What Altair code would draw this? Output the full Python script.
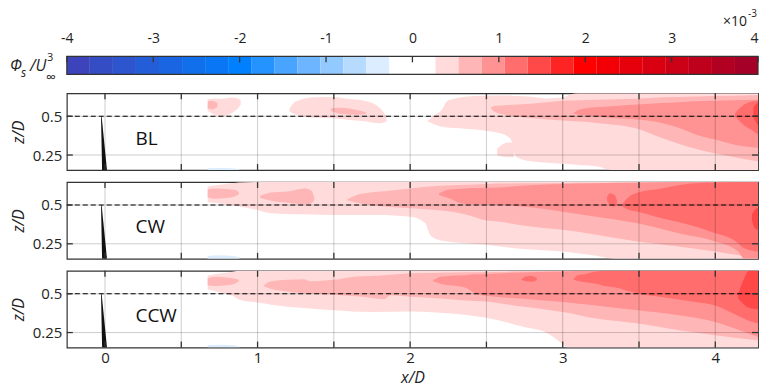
import altair as alt
import pandas as pd
import numpy as np

# ---------------- colour bar ----------------
CB_TICKS = [-4, -3, -2, -1, 0, 1, 2, 3, 4]
CB_EDGES = [round(v, 4) for v in np.linspace(-4, 4, 31)]
CB_COLORS = ["#3d44bb", "#344dc5", "#2c55ce", "#235ed8", "#1a66e2", "#116fec", "#0977f5",
             "#0080ff", "#2492ff", "#49a4ff", "#6db6ff", "#92c9ff", "#b6dbff", "#dbedff",
             "#ffffff", "#ffffff", "#ffdbdb", "#ffb6b6", "#ff9292", "#ff6d6d", "#ff4949",
             "#ff2424", "#ff0000", "#f20006", "#e5000b", "#d80011", "#cc0017", "#bf001d",
             "#b20022", "#a50028"]

LEVEL_COLORS = ["#ffdbdb", "#ffb6b6", "#ff9292", "#ff6d6d", "#ff4949"]
BLUE_COLOR = "#dbedff"

X_TICKS = [0, 0.5, 1, 1.5, 2, 2.5, 3, 3.5, 4]
X_LABELS = [0, 1, 2, 3, 4]
Z_TICKS = [0.25, 0.5]
X_DOMAIN = [-0.25, 4.28]
Z_DOMAIN = [0.153, 0.648]
HUB_Z = [0.5]

TOWER_Z = [0.5, 0.153]
TOWER_XL = [-0.026, -0.019]
TOWER_XR = [-0.022, 0.013]

PANEL_NAMES = ["BL", "CW", "CCW"]
NAME_X = [0.2, 0.2, 0.2]
NAME_Z = [0.353, 0.356, 0.357]

# ---------------- contour bands (x, z_top, z_bottom) ----------------
# BL
BL_BLUE = [(0.673, 0.164, 0.153), (0.75, 0.166, 0.153), (0.85, 0.163, 0.153), (0.88, 0.157, 0.153)]
BL_L1_A = [(0.673, 0.61, 0.535), (0.72, 0.615, 0.51), (0.77, 0.612, 0.50), (0.83, 0.62, 0.52),
           (0.87, 0.615, 0.55), (0.89, 0.60, 0.575)]
BL_L1_B = [(1.21, 0.55, 0.53), (1.25, 0.595, 0.51), (1.37, 0.622, 0.49), (1.48, 0.624, 0.488),
           (1.59, 0.613, 0.478), (1.70, 0.60, 0.468), (1.80, 0.555, 0.455), (1.845, 0.50, 0.465)]
BL_L1_MAIN = [(2.114, 0.469, 0.467), (2.15, 0.50, 0.452), (2.21, 0.545, 0.432), (2.24, 0.595, 0.428),
              (2.29, 0.612, 0.424), (2.36, 0.625, 0.42), (2.49, 0.632, 0.408), (2.576, 0.633, 0.393),
              (2.64, 0.633, 0.37), (2.665, 0.632, 0.34), (2.675, 0.631, 0.29), (2.70, 0.63, 0.236),
              (2.79, 0.626, 0.21), (2.9, 0.615, 0.20), (3.0, 0.62, 0.194), (3.05, 0.64, 0.19),
              (3.1, 0.648, 0.186), (3.22, 0.648, 0.178), (3.33, 0.648, 0.153), (4.28, 0.648, 0.153)]
BL_L1_LOBE = [(2.57, 0.29, 0.25), (2.60, 0.315, 0.24), (2.64, 0.33, 0.236), (2.68, 0.33, 0.235)]
BL_L2_A = [(0.673, 0.595, 0.55), (0.70, 0.60, 0.545), (0.737, 0.585, 0.56)]
BL_L2_B = [(1.48, 0.55, 0.535), (1.55, 0.555, 0.515), (1.65, 0.54, 0.51), (1.71, 0.525, 0.515)]
BL_L2_MAIN = [(2.53, 0.556, 0.55), (2.55, 0.566, 0.53), (2.576, 0.568, 0.52), (2.79, 0.58, 0.489),
              (3.0, 0.60, 0.472), (3.22, 0.607, 0.457), (3.49, 0.613, 0.42), (3.65, 0.622, 0.36),
              (3.87, 0.628, 0.29), (4.0, 0.631, 0.26), (4.19, 0.634, 0.225), (4.28, 0.635, 0.21)]
BL_L3 = [(3.07, 0.52, 0.518), (3.11, 0.543, 0.51), (3.22, 0.558, 0.50), (3.33, 0.564, 0.489),
         (3.49, 0.575, 0.479), (3.65, 0.585, 0.457), (3.76, 0.59, 0.425), (3.87, 0.596, 0.383),
         (4.0, 0.60, 0.35), (4.12, 0.603, 0.318), (4.28, 0.607, 0.297)]
BL_L4 = [(4.13, 0.52, 0.50), (4.19, 0.575, 0.44), (4.24, 0.595, 0.41), (4.28, 0.60, 0.383)]
BL_L5 = [(4.25, 0.56, 0.49), (4.28, 0.59, 0.44)]

# CW
CW_BLUE = [(0.673, 0.172, 0.153), (0.75, 0.176, 0.153), (0.85, 0.17, 0.153), (0.88, 0.16, 0.153)]
CW_L1 = [(0.673, 0.62, 0.517), (0.75, 0.63, 0.51), (0.88, 0.645, 0.49), (1.0, 0.648, 0.468),
         (1.09, 0.648, 0.447), (1.3, 0.648, 0.44), (1.5, 0.648, 0.436), (1.78, 0.648, 0.436),
         (2.0, 0.648, 0.425), (2.1, 0.648, 0.383), (2.12, 0.648, 0.33), (2.15, 0.648, 0.29),
         (2.2, 0.648, 0.272), (2.36, 0.648, 0.254), (2.5, 0.648, 0.244), (2.68, 0.648, 0.222),
         (3.0, 0.648, 0.20), (3.22, 0.648, 0.173), (3.35, 0.648, 0.153), (4.28, 0.648, 0.153)]
CW_L2_A = [(0.673, 0.60, 0.55), (0.72, 0.607, 0.54), (0.80, 0.603, 0.545), (0.86, 0.595, 0.56),
           (0.877, 0.58, 0.57)]
CW_L2_B = [(1.017, 0.56, 0.545), (1.09, 0.58, 0.528), (1.2, 0.587, 0.515), (1.307, 0.607, 0.506),
           (1.35, 0.595, 0.51), (1.372, 0.55, 0.53)]
CW_L2_C = [(1.587, 0.535, 0.53), (1.65, 0.564, 0.515), (1.737, 0.58, 0.50), (1.845, 0.59, 0.489),
           (2.0, 0.607, 0.479), (2.17, 0.622, 0.468), (2.275, 0.627, 0.457), (2.36, 0.63, 0.44),
           (2.5, 0.635, 0.40), (2.576, 0.638, 0.393), (2.79, 0.64, 0.361), (3.0, 0.642, 0.34),
           (3.22, 0.643, 0.308), (3.49, 0.644, 0.265), (3.76, 0.645, 0.233), (4.0, 0.646, 0.20),
           (4.19, 0.647, 0.17), (4.28, 0.648, 0.153)]
CW_L3 = [(2.19, 0.575, 0.565), (2.25, 0.598, 0.545), (2.36, 0.607, 0.506), (2.576, 0.613, 0.50),
         (2.79, 0.628, 0.485), (3.0, 0.635, 0.457), (3.22, 0.64, 0.425), (3.49, 0.645, 0.383),
         (3.76, 0.648, 0.318), (4.0, 0.648, 0.265), (4.15, 0.648, 0.20), (4.19, 0.648, 0.153),
         (4.28, 0.648, 0.153)]
CW_L4_BLOB = [(3.29, 0.55, 0.53), (3.31, 0.575, 0.50), (3.34, 0.565, 0.49), (3.355, 0.53, 0.50)]
CW_L4 = [(3.39, 0.505, 0.49), (3.43, 0.55, 0.47), (3.494, 0.58, 0.457), (3.65, 0.607, 0.415),
         (3.76, 0.628, 0.39), (3.87, 0.64, 0.361), (4.0, 0.645, 0.318), (4.12, 0.648, 0.276),
         (4.19, 0.648, 0.222), (4.28, 0.648, 0.20)]
CW_L5 = [(4.24, 0.44, 0.40), (4.26, 0.47, 0.35), (4.28, 0.48, 0.34)]

# CCW
CCW_BLUE = [(0.673, 0.168, 0.153), (0.75, 0.171, 0.153), (0.85, 0.167, 0.153), (0.88, 0.158, 0.153)]
CCW_L1 = [(0.673, 0.617, 0.528), (0.75, 0.63, 0.51), (0.84, 0.642, 0.485), (0.88, 0.648, 0.462),
          (1.0, 0.648, 0.444), (1.09, 0.648, 0.43), (1.3, 0.648, 0.408), (1.5, 0.648, 0.393),
          (1.74, 0.648, 0.382), (2.0, 0.648, 0.385), (2.17, 0.648, 0.38), (2.36, 0.648, 0.365),
          (2.5, 0.648, 0.345), (2.75, 0.648, 0.285), (2.9, 0.648, 0.245), (3.0, 0.648, 0.175),
          (3.03, 0.648, 0.153), (4.28, 0.648, 0.153)]
CCW_L2_A = [(0.673, 0.60, 0.555), (0.72, 0.61, 0.55), (0.80, 0.605, 0.555), (0.86, 0.595, 0.57),
            (0.877, 0.59, 0.58)]
CCW_L2 = [(1.04, 0.553, 0.548), (1.09, 0.58, 0.53), (1.2, 0.59, 0.515), (1.3, 0.594, 0.504),
          (1.35, 0.58, 0.50), (1.5, 0.59, 0.494), (1.63, 0.61, 0.485), (1.74, 0.615, 0.475),
          (1.83, 0.62, 0.465), (1.87, 0.622, 0.49), (2.0, 0.632, 0.48), (2.2, 0.636, 0.47),
          (2.36, 0.638, 0.457), (2.5, 0.64, 0.45), (2.68, 0.643, 0.425), (3.0, 0.645, 0.383),
          (3.22, 0.646, 0.34), (3.494, 0.647, 0.308), (3.76, 0.648, 0.265), (4.0, 0.648, 0.233),
          (4.28, 0.648, 0.20)]
CCW_L3 = [(2.15, 0.585, 0.58), (2.2, 0.61, 0.565), (2.36, 0.62, 0.54), (2.43, 0.625, 0.50),
          (2.5, 0.628, 0.487), (2.68, 0.635, 0.472), (3.0, 0.643, 0.447), (3.22, 0.648, 0.425),
          (3.494, 0.648, 0.393), (3.76, 0.648, 0.361), (4.0, 0.648, 0.318), (4.19, 0.648, 0.254),
          (4.28, 0.648, 0.222)]
CCW_L4_BLOB = [(2.73, 0.595, 0.59), (2.76, 0.612, 0.58), (2.80, 0.615, 0.577), (2.83, 0.60, 0.587)]
CCW_L4 = [(3.07, 0.593, 0.59), (3.1, 0.62, 0.583), (3.15, 0.628, 0.575), (3.22, 0.643, 0.564),
          (3.27, 0.648, 0.55), (3.33, 0.648, 0.543), (3.494, 0.648, 0.50), (3.65, 0.648, 0.479),
          (3.87, 0.648, 0.447), (4.0, 0.648, 0.425), (4.12, 0.648, 0.372), (4.21, 0.648, 0.33),
          (4.28, 0.648, 0.308)]
CCW_L5 = [(4.15, 0.50, 0.47), (4.19, 0.60, 0.43), (4.22, 0.648, 0.41), (4.28, 0.648, 0.40)]

PANELS = [
    (BL_BLUE, [[BL_L1_A, BL_L1_B, BL_L1_MAIN, BL_L1_LOBE], [BL_L2_A, BL_L2_B, BL_L2_MAIN],
               [BL_L3], [BL_L4], [BL_L5]]),
    (CW_BLUE, [[CW_L1], [CW_L2_A, CW_L2_B, CW_L2_C], [CW_L3], [CW_L4_BLOB, CW_L4], [CW_L5]]),
    (CCW_BLUE, [[CCW_L1], [CCW_L2_A, CCW_L2], [CCW_L3], [CCW_L4_BLOB, CCW_L4], [CCW_L5]]),
]

W, H = 693, 77
FONT = "Open Sans"
INK = "#333333"

XS = alt.Scale(domain=X_DOMAIN, nice=False, zero=False)
ZS = alt.Scale(domain=Z_DOMAIN, nice=False, zero=False)


def make_panel(idx, show_x):
    blue, levels = PANELS[idx]
    if show_x:
        xaxis = alt.Axis(values=X_LABELS, labelExpr="'' + datum.value", ticks=False, domain=False,
                         grid=False, title="x/D", titleFontStyle="italic", labelPadding=3,
                         titlePadding=4)
    else:
        xaxis = None
    yaxis = alt.Axis(values=Z_TICKS, labelExpr="'' + datum.value", ticks=False, domain=False,
                     grid=False, title="z/D", titleFontStyle="italic", labelPadding=5,
                     titlePadding=6)

    def xe(f="x"):
        return alt.X(f"{f}:Q", scale=XS, axis=xaxis)

    def ye(f="top"):
        return alt.Y(f"{f}:Q", scale=ZS, axis=yaxis)

    def band(regions, color):
        frames = [pd.DataFrame(r, columns=["x", "top", "bot"]).assign(seg=f"s{i}")
                  for i, r in enumerate(regions)]
        df = pd.concat(frames, ignore_index=True)
        return alt.Chart(df).mark_area(interpolate="monotone", clip=True, color=color,
                                       opacity=1).encode(
            x=xe(), y=ye(), y2="bot:Q", detail="seg:N")

    layers = [band([blue], BLUE_COLOR)]
    for li, regs in enumerate(levels):
        layers.append(band(regs, LEVEL_COLORS[li]))

    gx = pd.DataFrame({"x": X_TICKS})
    gz = pd.DataFrame({"top": Z_TICKS})
    layers.append(alt.Chart(gx).mark_rule(color="#000", opacity=0.2, strokeWidth=1).encode(x=xe()))
    layers.append(alt.Chart(gz).mark_rule(color="#000", opacity=0.2, strokeWidth=1).encode(y=ye()))
    layers.append(alt.Chart(pd.DataFrame({"top": HUB_Z})).mark_rule(
        color="#000", strokeDash=[5, 3], strokeWidth=1.2).encode(y=ye()))
    tower = pd.DataFrame({"top": TOWER_Z, "x": TOWER_XL, "x2": TOWER_XR})
    layers.append(alt.Chart(tower).mark_area(orient="horizontal", color="#111", clip=True).encode(
        y=ye(), x=xe(), x2="x2:Q"))
    # inward ticks
    layers.append(alt.Chart(gx).mark_rule(color=INK, strokeWidth=1.3).encode(
        x=xe(), y=alt.value(0), y2=alt.value(6)))
    layers.append(alt.Chart(gx).mark_rule(color=INK, strokeWidth=1.3).encode(
        x=xe(), y=alt.value(H), y2=alt.value(H - 6)))
    layers.append(alt.Chart(gz).mark_rule(color=INK, strokeWidth=1.3).encode(
        y=ye(), x=alt.value(0), x2=alt.value(6)))
    layers.append(alt.Chart(gz).mark_rule(color=INK, strokeWidth=1.3).encode(
        y=ye(), x=alt.value(W), x2=alt.value(W - 6)))
    name = pd.DataFrame({"x": [NAME_X[idx]], "top": [NAME_Z[idx]], "t": [PANEL_NAMES[idx]]})
    layers.append(alt.Chart(name).mark_text(align="left", baseline="middle", fontSize=19,
                                            font=FONT, color="#111").encode(
        x=xe(), y=ye(), text="t:N"))
    return alt.layer(*layers).properties(width=W, height=H)


# colour bar
CB_H = 25
BAR_H = 18
cb_df = pd.DataFrame({"x": CB_EDGES[:-1], "x2": CB_EDGES[1:], "k": list(range(30))})
CBX = alt.Scale(domain=[-4, 4], nice=False, zero=False)
cb_axis = alt.Axis(orient="top", values=CB_TICKS, labelExpr="'' + datum.value", ticks=False,
                   domain=False, grid=False, title=None, labelPadding=11, labelFontSize=14,
                   labelAlign={"condition": {"test": "datum.value == 4", "value": "right"},
                               "value": "center"})
cb_rect = alt.Chart(cb_df).mark_rect().encode(
    x=alt.X("x:Q", scale=CBX, axis=cb_axis), x2="x2:Q",
    y=alt.value(0), y2=alt.value(BAR_H),
    color=alt.Color("k:O", scale=alt.Scale(domain=list(range(30)), range=CB_COLORS), legend=None))
cb_frame = alt.Chart(pd.DataFrame({"x": [-4], "x2": [4]})).mark_rect(
    fill=None, stroke=INK, strokeWidth=1.2).encode(
    x=alt.X("x:Q", scale=CBX, axis=cb_axis), x2="x2:Q", y=alt.value(0), y2=alt.value(BAR_H))
cb_ticks = alt.Chart(pd.DataFrame({"x": CB_TICKS})).mark_rule(color=INK, strokeWidth=1.3).encode(
    x=alt.X("x:Q", scale=CBX, axis=cb_axis), y=alt.value(0), y2=alt.value(6))


def txt(s, x, y, size, style="normal", align="left"):
    return alt.Chart(pd.DataFrame({"t": [s]})).mark_text(
        align=align, baseline="alphabetic", fontSize=size, fontStyle=style, font=FONT,
        color="#222").encode(x=alt.value(x), y=alt.value(y), text="t:N")


cb_texts = [
    txt("Φ", -57, 15, 16, "italic"),
    txt("s", -46, 21, 12, "italic"),
    txt("/U", -37, 15, 16, "italic"),
    txt("3", -20, 5, 11),
    txt("∞", -21, 26, 14),
    txt("×10", W - 11, -30, 14, align="right"),
    txt("-3", W - 1, -39, 10, align="right"),
]

colorbar = alt.layer(cb_rect, cb_frame, cb_ticks, *cb_texts).properties(
    width=W, height=CB_H, view=alt.ViewBackground(stroke=None))

chart = alt.vconcat(
    colorbar,
    make_panel(0, False),
    make_panel(1, False),
    make_panel(2, True),
    spacing=12,
    bounds="flush",
    padding={"left": 1, "top": 1, "right": 2, "bottom": 0},
).configure_view(stroke=INK, strokeWidth=1.2).configure_axis(
    labelFont=FONT, titleFont=FONT, labelFontSize=15, titleFontSize=16,
    labelColor="#222", titleColor="#222", titleFontWeight="normal")

chart.save("out.html", embed_options={"renderer": "svg", "actions": False})
